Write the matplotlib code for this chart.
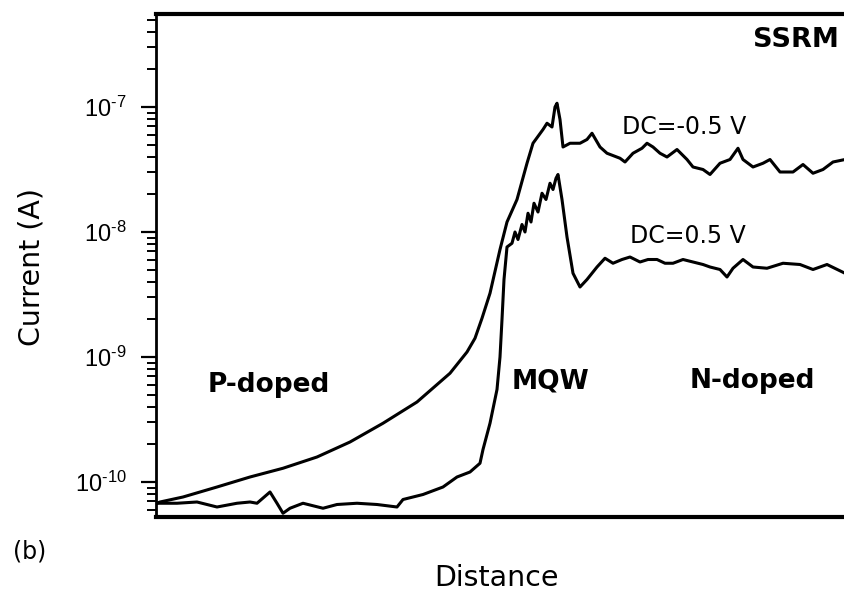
import numpy as np
import matplotlib
matplotlib.use("Agg")
import matplotlib.pyplot as plt
from matplotlib.ticker import LogLocator, FixedLocator, NullFormatter

plt.rcParams['font.family'] = ['Liberation Sans', 'DejaVu Sans']
plt.rcParams['mathtext.fontset'] = 'custom'
plt.rcParams['mathtext.rm'] = 'Liberation Sans'
plt.rcParams['mathtext.it'] = 'Liberation Sans:italic'
plt.rcParams['mathtext.bf'] = 'Liberation Sans:bold'

# ---- data (distance in arbitrary units, log10 of current in A) ----
x_neg = [1, 4, 27, 61, 94, 127, 161, 194, 227, 261, 294, 311, 319, 326, 334, 344,
         351, 361, 371, 377, 387, 391, 396, 399, 401, 404, 407, 414, 424, 431, 436,
         444, 451, 464, 469, 477, 486, 491, 497, 504, 511, 521, 531, 537, 547, 554,
         564, 574, 582, 587, 597, 607, 614, 624, 637, 647, 657, 667, 677, 689]
logI_neg = [-10.17, -10.16, -10.12, -10.04, -9.96, -9.89, -9.80, -9.68, -9.53, -9.36,
            -9.13, -8.96, -8.85, -8.69, -8.49, -8.14, -7.92, -7.74, -7.45, -7.29,
            -7.18, -7.13, -7.16, -7.00, -6.97, -7.10, -7.32, -7.29, -7.29, -7.26,
            -7.21, -7.32, -7.37, -7.41, -7.44, -7.37, -7.33, -7.29, -7.32, -7.37,
            -7.40, -7.34, -7.42, -7.48, -7.50, -7.54, -7.45, -7.42, -7.33, -7.42,
            -7.48, -7.45, -7.42, -7.52, -7.52, -7.46, -7.53, -7.50, -7.44, -7.42]

x_pos = [1, 21, 41, 61, 81, 94, 101, 114, 121, 127, 134, 147, 167, 181, 201, 221,
         241, 247, 267, 287, 301, 314, 324, 327, 334, 341, 344, 346, 348, 351, 356,
         359, 362, 366, 369, 372, 375, 378, 382, 386, 390, 394, 397, 400, 402, 406,
         411, 417, 424, 431, 441, 449, 457, 466, 474, 484, 492, 501, 509, 517, 527,
         537, 547, 554, 564, 571, 577, 587, 597, 611, 627, 644, 657, 671, 689]
logI_pos = [-10.17, -10.17, -10.16, -10.20, -10.17, -10.16, -10.17, -10.08, -10.17,
            -10.25, -10.21, -10.17, -10.21, -10.18, -10.17, -10.18, -10.20, -10.14,
            -10.10, -10.04, -9.96, -9.92, -9.85, -9.74, -9.53, -9.26, -9.00, -8.70,
            -8.38, -8.12, -8.09, -8.00, -8.06, -7.94, -8.00, -7.85, -7.92, -7.77,
            -7.84, -7.69, -7.74, -7.61, -7.66, -7.57, -7.54, -7.74, -8.04, -8.33,
            -8.44, -8.38, -8.28, -8.21, -8.25, -8.22, -8.20, -8.24, -8.22, -8.22,
            -8.25, -8.25, -8.22, -8.24, -8.26, -8.28, -8.30, -8.36, -8.29, -8.22,
            -8.28, -8.29, -8.25, -8.26, -8.30, -8.26, -8.33]

ytick_exps = [-10, -9, -8, -7]
ytick_labels = ['$10^{\u201010}$', '$10^{\u20109}$', '$10^{\u20108}$', '$10^{\u20107}$']

W, H = 845, 591
fig = plt.figure(figsize=(W / 100, H / 100), dpi=100)
ax = fig.add_axes([156 / W, 1 - 517 / H, 1 - 156 / W, (517 - 14) / H])

lw = 2.2
ax.plot(x_neg, 10 ** np.array(logI_neg), color='black', lw=lw, solid_joinstyle='round')
ax.plot(x_pos, 10 ** np.array(logI_pos), color='black', lw=lw, solid_joinstyle='round')

ax.set_yscale('log')
ax.set_xlim(0, 689)
ax.set_ylim(10 ** -10.28, 10 ** -6.256)

ax.yaxis.set_major_locator(FixedLocator([10.0 ** e for e in ytick_exps]))
ax.set_yticklabels(ytick_labels)
ax.yaxis.set_minor_locator(LogLocator(base=10, subs=np.arange(2, 10), numticks=20))
ax.yaxis.set_minor_formatter(NullFormatter())
ax.tick_params(axis='y', which='major', direction='out', length=11, width=1.6,
               labelsize=17, pad=10)
ax.tick_params(axis='y', which='minor', direction='out', length=6.5, width=1.4)
ax.set_xticks([])

ax.spines['right'].set_visible(False)
ax.spines['top'].set_linewidth(3.0)
ax.spines['bottom'].set_linewidth(3.0)
ax.spines['left'].set_linewidth(2.0)

def axfrac(px, py):
    return (px - 156) / 689, (517 - py) / 503

DV = 'DejaVu Sans'
bold = dict(fontsize=19, fontweight='bold', family=DV, transform=ax.transAxes,
            va='baseline', ha='left')
ax.text(*axfrac(208, 392), 'P-doped', **bold)
ax.text(*axfrac(512, 388), 'MQW', **bold)
ax.text(*axfrac(690, 388), 'N-doped', **bold)
ax.text(*axfrac(753, 47), 'SSRM', fontsize=19.5, fontweight='bold', family=DV,
        transform=ax.transAxes, va='baseline', ha='left', clip_on=False)
reg = dict(fontsize=17, family=DV, transform=ax.transAxes, va='baseline', ha='left')
ax.text(*axfrac(622, 134), 'DC=-0.5 V', **reg)
ax.text(*axfrac(630, 243), 'DC=0.5 V', **reg)

fig.text(32 / W, 1 - 267 / H, 'Current (A)', rotation=90, fontsize=20.5, family=DV,
         ha='center', va='center')
fig.text(497 / W, 1 - 578 / H, 'Distance', fontsize=20.5, family=DV,
         ha='center', va='center')
fig.text(13 / W, 1 - 552 / H, '(b)', fontsize=17, family=DV, ha='left', va='center')

fig.savefig('out.png', dpi=100)
